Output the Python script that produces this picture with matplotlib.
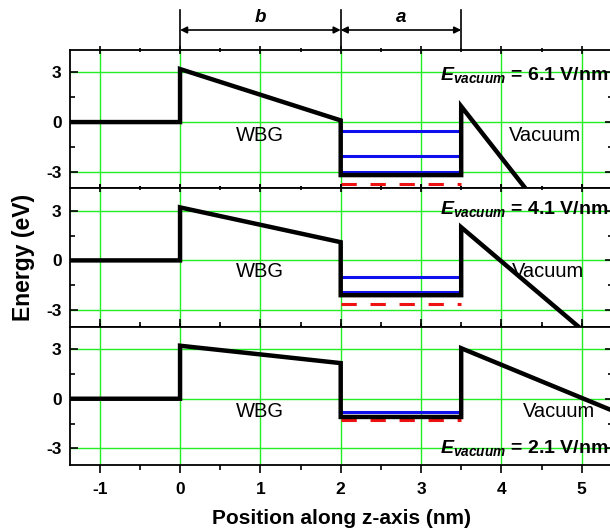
import matplotlib
matplotlib.use("Agg")
import matplotlib.pyplot as plt
from matplotlib.ticker import MultipleLocator

plt.rcParams['font.family'] = ['Liberation Sans', 'DejaVu Sans']
plt.rcParams['mathtext.fontset'] = 'custom'
plt.rcParams['mathtext.it'] = 'Liberation Sans:bold:italic'
plt.rcParams['mathtext.rm'] = 'Liberation Sans:bold'
plt.rcParams['mathtext.bf'] = 'Liberation Sans:bold'
plt.rcParams['axes.unicode_minus'] = False

# band profile values, one entry per panel (top to bottom)
fields = ["6.1", "4.1", "2.1"]
wbg_start = [3.2, 3.2, 3.2]        # energy at z = 0
wbg_end = [0.1, 1.1, 2.15]         # energy at z = 2
well_bottom = [-3.2, -2.1, -1.1]
vac_peak = [0.95, 2.0, 3.05]       # energy at z = 3.5
vac_end_z = [4.3, 4.96, 5.4]
vac_end_E = [-4.0, -4.0, -0.75]
blue_levels = [[-0.55, -2.05, -3.0], [-1.0, -1.93], [-0.83]]
red_levels = [-3.75, -2.65, -1.3]

z_left, z_wbg, z_well, z_vac = -1.4, 0.0, 2.0, 3.5
x_lim = (-1.37, 5.39)
y_lim = (-4.0, 4.35)

field_y = [2.85, 3.1, -2.95]
label_y = [-0.8, -0.7, -0.75]
vac_x = [4.55, 4.58, 4.72]

fig = plt.figure(figsize=(6.1, 5.28), dpi=100)
W, H = 610, 528
left, right = 70 / W, 613 / W
top_px, bot_px = 50, 465
ph = (bot_px - top_px) / 3

axes = []
for i in range(3):
    y0 = 1 - (top_px + (i + 1) * ph) / H
    ax = fig.add_axes([left, y0, right - left, ph / H])
    axes.append(ax)

    z = [z_left, z_wbg, z_wbg, z_well, z_well, z_vac, z_vac, vac_end_z[i]]
    E = [0, 0, wbg_start[i], wbg_end[i], well_bottom[i], well_bottom[i],
         vac_peak[i], vac_end_E[i]]

    ax.grid(True, which='major', color='#22ee22', lw=1.0, zorder=0)
    for lev in blue_levels[i]:
        ax.plot([z_well, z_vac], [lev, lev], color='#1010ee', lw=2.2, zorder=3)
    ax.plot([z_well, z_vac], [red_levels[i]] * 2, color='#ee1111', lw=2.2,
            dashes=(5, 4.5), zorder=3)
    ax.plot(z, E, color='black', lw=3.2, solid_joinstyle='miter', zorder=4)

    ax.text(1.0, label_y[i], 'WBG', ha='center', va='center', fontsize=14.5)
    ax.text(vac_x[i], label_y[i], 'Vacuum', ha='center', va='center',
            fontsize=14.5)
    ax.text(5.33, field_y[i], r'$E_{vacuum}$ = ' + fields[i] + ' V/nm',
            ha='right', va='center', fontsize=14, fontweight='bold', zorder=5)

    ax.set_xlim(*x_lim)
    ax.set_ylim(*y_lim)
    ax.xaxis.set_major_locator(MultipleLocator(1))
    ax.xaxis.set_minor_locator(MultipleLocator(0.5))
    ax.set_yticks([-3, 0, 3])
    ax.yaxis.set_minor_locator(MultipleLocator(1.5))
    ax.tick_params(axis='y', which='both', direction='in', left=True, right=True,
                   labelsize=12.5, width=1.2, pad=6)
    ax.tick_params(axis='y', which='major', length=6)
    ax.tick_params(axis='y', which='minor', length=3.5)
    ax.tick_params(axis='x', which='both', top=True, width=1.2)
    ax.tick_params(axis='x', which='major', length=6)
    ax.tick_params(axis='x', which='minor', length=3.5)
    ax.tick_params(axis='x', which='both', direction='inout' if i < 2 else 'out')
    for lab in ax.get_yticklabels():
        lab.set_fontweight('bold')
    for s in ax.spines.values():
        s.set_linewidth(1.3)
    if i < 2:
        ax.tick_params(axis='x', labelbottom=False)
    else:
        ax.tick_params(axis='x', labelsize=12.5, pad=6)
        for lab in ax.get_xticklabels():
            lab.set_fontweight('bold')
        ax.set_xlabel('Position along z-axis (nm)', fontsize=15,
                      fontweight='bold', labelpad=9)

axes[1].set_ylabel('Energy (eV)', fontsize=16.5, fontweight='bold', labelpad=8)

# dimension arrows above the top panel
ax = axes[0]
tr = ax.get_xaxis_transform()
ax_h = ph
for zv in [z_wbg, z_well, z_vac]:
    ax.plot([zv, zv], [1 + 2 / ax_h, 1 + 40 / ax_h], color='black', lw=1.2,
            transform=tr, clip_on=False)
ya = 1 + 20 / ax_h
for (za, zb, lab) in [(z_wbg, z_well, 'b'), (z_well, z_vac, 'a')]:
    ax.annotate('', xy=(za, ya), xytext=(zb, ya), xycoords=tr, textcoords=tr,
                arrowprops=dict(arrowstyle='<|-|>', color='black', lw=1.2,
                                shrinkA=0, shrinkB=0, mutation_scale=10))
    ax.text((za + zb) / 2, 1 + 32 / ax_h, lab, transform=tr, ha='center',
            va='center', fontsize=13.5, fontweight='bold', fontstyle='italic')

fig.savefig('out.png', dpi=100)
